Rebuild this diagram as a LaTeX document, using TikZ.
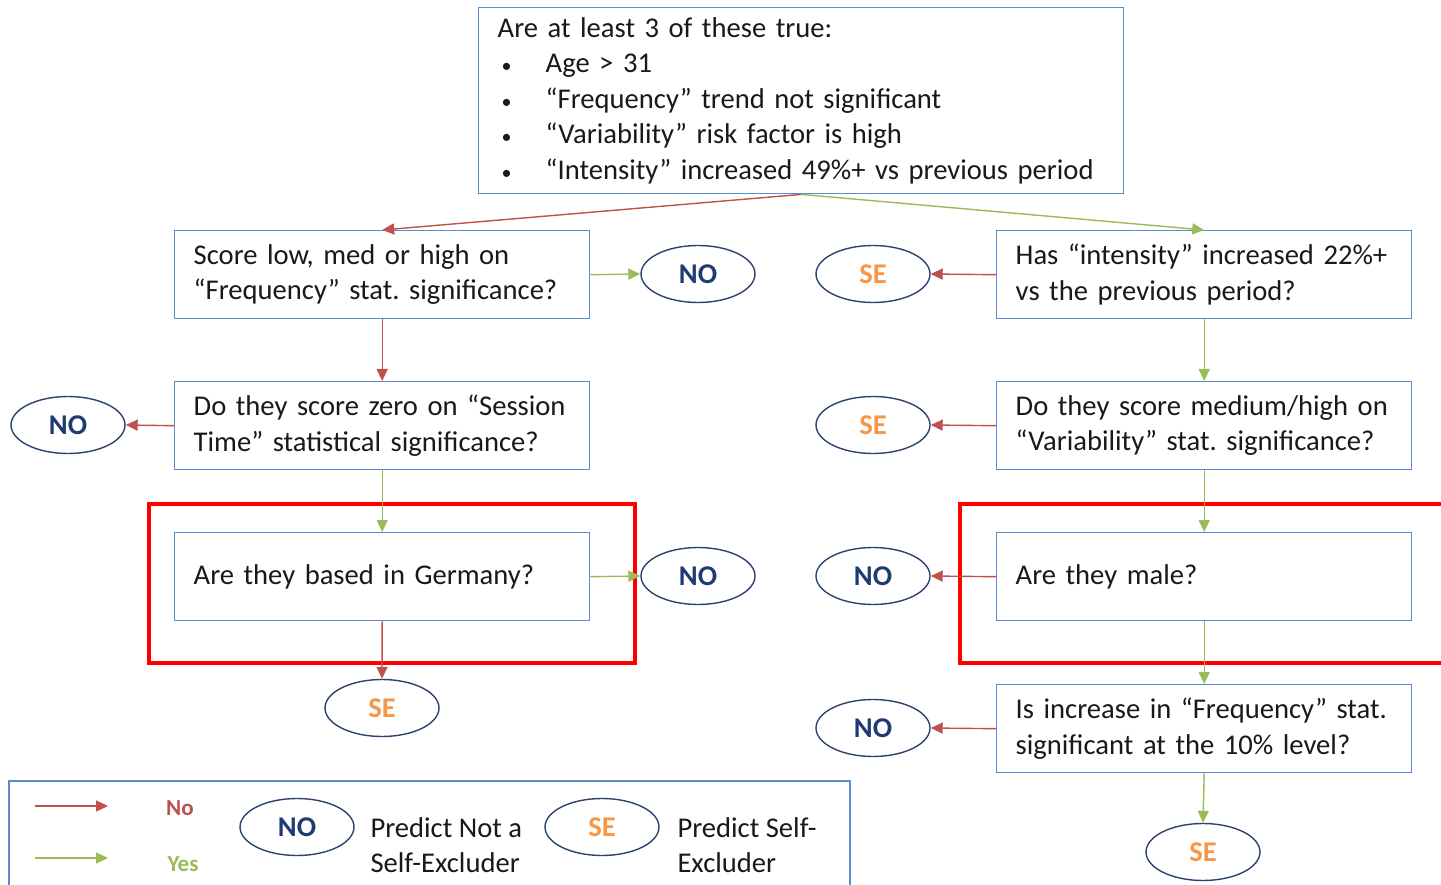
\documentclass[tikz,border=0pt]{standalone}
\usepackage{fontspec}
\setmainfont{Carlito}
\usetikzlibrary{arrows.meta,shapes.geometric}
\definecolor{boxblue}{HTML}{5B8BD0}
\definecolor{ovalnavy}{HTML}{2C4270}
\definecolor{notext}{HTML}{1F3B73}
\definecolor{nored}{HTML}{C0504D}
\definecolor{yesgreen}{HTML}{9BBB59}
\definecolor{seorange}{HTML}{F79646}
\definecolor{markred}{HTML}{FF0000}
\frenchspacing
\newcommand{\critbullet}{\hspace*{4pt}\makebox[44pt][l]{\fontsize{20}{20}\selectfont•}}

\begin{document}
\begin{tikzpicture}[x=1pt, y=-1pt, font=\fontsize{28.6}{35.5}\selectfont, >={Triangle[length=12pt,width=11pt]},
  qbox/.style={draw=boxblue, line width=1.4pt, anchor=north west, minimum width=415pt, minimum height=88pt, text width=377pt, inner xsep=19pt, inner ysep=0pt, align=left, text=black!90},
  oval/.style={draw=ovalnavy, ellipse, line width=1.4pt, minimum width=114pt, minimum height=57pt, inner sep=0pt, font=\fontsize{28.6}{35}\selectfont\bfseries},
  nooval/.style={oval, text=notext},
  seoval/.style={oval, text=seorange},
  noarrow/.style={->, draw=nored, line width=1.4pt},
  yesarrow/.style={->, draw=yesgreen, line width=1.4pt},
  keytext/.style={anchor=west, align=left, text=black!90},
  highlight/.style={draw=markred, line width=4.5pt}]
  \clip (0,0) rectangle (1441,885);
  \fill[white] (0,0) rectangle (1441,885);

  % criteria
  \node[draw=boxblue, line width=1.4pt, anchor=north west, minimum width=645pt, minimum height=186pt, text width=607pt, inner xsep=19pt, inner ysep=0pt, align=left, text=black!90] (crit) at (478,7)
    {\mbox{Are at least 3 of these true:}\\
     \critbullet\mbox{Age > 31}\\
     \critbullet\mbox{“Frequency” trend not significant}\\
     \critbullet\mbox{“Variability” risk factor is high}\\
     \critbullet\mbox{“Intensity” increased 49\%+ vs previous period}};

  % left branch
  \node[qbox] (freq) at (174,230) {\mbox{Score low, med or high on}\\\mbox{“Frequency” stat. significance?}};
  \node[qbox] (sess) at (174,381) {\mbox{Do they score zero on “Session}\\\mbox{Time” statistical significance?}};
  \node[qbox] (germ) at (174,532) {\mbox{Are they based in Germany?}};
  \node[nooval] (freqno) at (698,274) {NO};
  \node[nooval] (sessno) at (68,425) {NO};
  \node[nooval] (germno) at (698,576) {NO};
  \node[seoval] (germse) at (382,708) {SE};

  % right branch
  \node[qbox] (inten) at (996,230) {\mbox{Has “intensity” increased 22\%+}\\\mbox{vs the previous period?}};
  \node[qbox] (vari) at (996,381) {\mbox{Do they score medium/high on}\\\mbox{“Variability” stat. significance?}};
  \node[qbox] (male) at (996,532) {\mbox{Are they male?}};
  \node[qbox] (incr) at (996,684) {\mbox{Is increase in “Frequency” stat.}\\\mbox{significant at the 10\% level?}};
  \node[seoval] (intense) at (873,274) {SE};
  \node[seoval] (varise) at (873,425) {SE};
  \node[nooval] (maleno) at (873,576) {NO};
  \node[nooval] (incrno) at (873,728) {NO};
  \node[seoval] (incrse) at (1203,852) {SE};

  % highlights
  \draw[highlight] (149,504) rectangle (635,663);
  \draw[highlight] (960,504) rectangle (1460,663);

  % connectors
  \draw[noarrow] (crit.south) -- (freq.north);
  \draw[yesarrow] (crit.south) -- (inten.north);
  \draw[yesarrow] (freq.east) -- (freqno.west);
  \draw[noarrow] (freq.south) -- (sess.north);
  \draw[noarrow] (sess.west) -- (sessno.east);
  \draw[yesarrow] (sess.south) -- (germ.north);
  \draw[yesarrow] (germ.east) -- (germno.west);
  \draw[noarrow] (germ.south) -- (germse.north);
  \draw[noarrow] (inten.west) -- (intense.east);
  \draw[yesarrow] (inten.south) -- (vari.north);
  \draw[noarrow] (vari.west) -- (varise.east);
  \draw[yesarrow] (vari.south) -- (male.north);
  \draw[noarrow] (male.west) -- (maleno.east);
  \draw[yesarrow] (male.south) -- (incr.north);
  \draw[noarrow] (incr.west) -- (incrno.east);
  \draw[yesarrow] (incr.south) -- (incrse.north);

  % key
  \draw[draw=boxblue, line width=1.4pt] (9,781) rectangle (850,900);
  \coordinate (nofrom) at (35,806);
  \coordinate (noto) at (108,806);
  \coordinate (yesfrom) at (35,858);
  \coordinate (yesto) at (108,858);
  \draw[noarrow] (nofrom) -- (noto);
  \draw[yesarrow] (yesfrom) -- (yesto);
  \node[text=nored, font=\fontsize{23}{26}\selectfont\bfseries] (nolab) at (180,808) {No};
  \node[text=yesgreen, font=\fontsize{23}{26}\selectfont\bfseries] (yeslab) at (183,864) {Yes};
  \node[nooval] (keyno) at (297,827) {NO};
  \node[keytext] (keynotext) at (367,845) {Predict Not a\\Self-Excluder};
  \node[seoval] (keyse) at (602,827) {SE};
  \node[keytext] (keysetext) at (674,845) {Predict Self-\\Excluder};
\end{tikzpicture}
\end{document}
